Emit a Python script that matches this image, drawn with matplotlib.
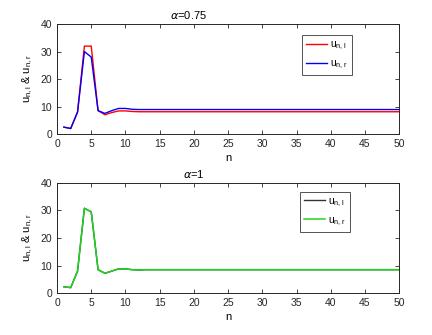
import matplotlib.pyplot as plt

plt.rcParams['font.family'] = ['Liberation Sans', 'DejaVu Sans']
plt.rcParams['font.size'] = 7.5

n = list(range(1, 51))

# alpha = 0.75
u_l_075 = [2.5, 2.0, 8.0, 32.0, 32.0, 8.5, 7.0, 7.8, 8.4, 8.4, 8.2, 8.1] + [8.1] * 38
u_r_075 = [2.5, 2.0, 8.0, 30.0, 28.0, 8.5, 7.5, 8.5, 9.3, 9.3, 9.0, 8.9] + [8.9] * 38

# alpha = 1
u_l_1 = [2.3, 2.0, 8.0, 30.8, 29.5, 8.5, 7.2, 8.0, 8.8, 8.8, 8.5, 8.4] + [8.5] * 38
u_r_1 = [2.3, 2.0, 8.0, 30.8, 29.5, 8.5, 7.2, 8.0, 8.8, 8.8, 8.5, 8.4] + [8.5] * 38

xticks = list(range(0, 51, 5))
yticks = [0, 10, 20, 30, 40]


def style_axes(ax, title, tx):
    ax.set_xlim(0, 50)
    ax.set_ylim(0, 40)
    ax.set_xticks(xticks)
    ax.set_yticks(yticks)
    ax.tick_params(direction='in', top=True, right=True, length=3, width=0.6,
                   colors='#262626', labelsize=7.5)
    for s in ax.spines.values():
        s.set_color('#262626')
        s.set_linewidth(0.7)
    ax.set_xlabel('n', fontsize=8, labelpad=3)
    ax.set_ylabel(r'u$_{\mathregular{n,l}}$ & u$_{\mathregular{n,r}}$', fontsize=8, labelpad=4)
    ax.text(tx, 1.03, title, transform=ax.transAxes, ha='center', va='bottom', fontsize=8)


fig = plt.figure(figsize=(4.32, 3.35), dpi=100)
ax1 = fig.add_axes([0.132, 0.6, 0.792, 0.328])
ax2 = fig.add_axes([0.132, 0.125, 0.792, 0.329])

ax1.plot(n, u_l_075, color='red', lw=1.0, label=r'u$_{\mathregular{n,l}}$')
ax1.plot(n, u_r_075, color='blue', lw=1.0, label=r'u$_{\mathregular{n,r}}$')
style_axes(ax1, r'$\alpha$=0.75', 0.385)

ax2.plot(n, u_l_1, color='#333333', lw=1.0, label=r'u$_{\mathregular{n,l}}$')
ax2.plot(n, u_r_1, color='#1fd41f', lw=1.1, label=r'u$_{\mathregular{n,r}}$')
style_axes(ax2, r'$\alpha$=1', 0.4)

for ax, anchor in ((ax1, (0.715, 0.9)), (ax2, (0.71, 0.92))):
    leg = ax.legend(loc='upper left', bbox_to_anchor=anchor, fancybox=False,
                    edgecolor='#262626', fontsize=7.5, handlelength=2.0,
                    borderpad=0.4, labelspacing=0.6, handletextpad=0.3,
                    borderaxespad=0)
    leg.get_frame().set_linewidth(0.7)

fig.savefig('out.png', dpi=100)
